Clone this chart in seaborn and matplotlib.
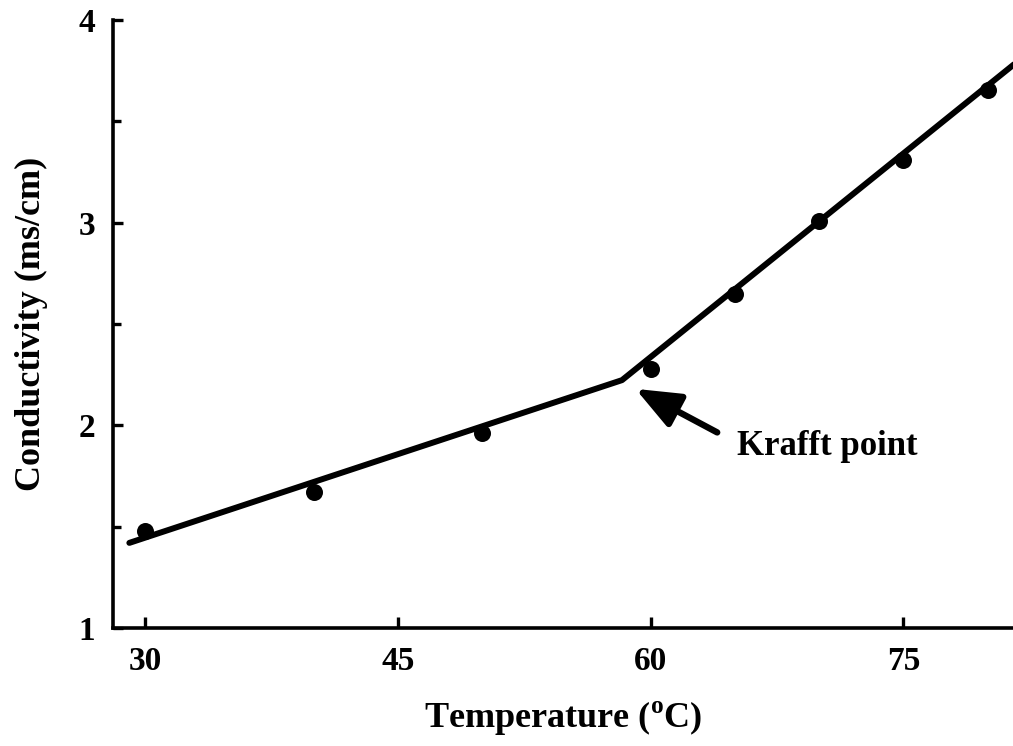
import matplotlib
matplotlib.use('Agg')
import matplotlib.pyplot as plt
import seaborn as sns
import pandas as pd

# ---- data ----
temperature = [30, 40, 50, 60, 65, 70, 75, 80]
conductivity = [1.48, 1.67, 1.96, 2.28, 2.65, 3.01, 3.31, 3.655]
fit_temperature = [29.07, 58.3, 81.6]
fit_conductivity = [1.42, 2.223, 3.784]
x_ticks = [30, 45, 60, 75]
y_ticks = [1, 2, 3, 4]
y_minor_ticks = [1.5, 2.5, 3.5]
annotation_text = "Krafft point"
arrow_tip = (59.1, 2.18)
arrow_tail = (63.95, 1.965)
text_pos = (65.1, 1.853)

sns.set_theme(style='ticks')
plt.rcParams['font.family'] = ['Liberation Serif', 'DejaVu Serif']
plt.rcParams['font.weight'] = 'bold'
plt.rcParams['mathtext.fontset'] = 'custom'
plt.rcParams['mathtext.rm'] = 'Liberation Serif:bold'
plt.rcParams['mathtext.bf'] = 'Liberation Serif:bold'

fig = plt.figure(figsize=(10.13, 7.46), dpi=100)
ax = fig.add_axes([113/1013, 1-628/746, 1-113/1013, (628-20)/746])

df = pd.DataFrame({'T': temperature, 'C': conductivity})
fit = pd.DataFrame({'T': fit_temperature, 'C': fit_conductivity})

sns.lineplot(data=fit, x='T', y='C', sort=False, estimator=None,
             color='black', linewidth=4.3, ax=ax)
sns.scatterplot(data=df, x='T', y='C', color='black', s=150,
                edgecolor='black', linewidth=0, ax=ax, zorder=3)

ax.set_xlim(28.1, 81.5)
ax.set_ylim(1, 4)
ax.set_xticks(x_ticks)
ax.set_yticks(y_ticks)
ax.set_yticks(y_minor_ticks, minor=True)
ax.set_xticklabels([str(v) for v in x_ticks], fontsize=24, fontweight='bold')
ax.set_yticklabels([str(v) for v in y_ticks], fontsize=24, fontweight='bold')

for side in ['top', 'right']:
    ax.spines[side].set_visible(False)
for side in ['left', 'bottom']:
    ax.spines[side].set_linewidth(2.6)
    ax.spines[side].set_color('black')

ax.tick_params(axis='x', which='major', direction='in', length=8, width=2.4,
               pad=13, colors='black')
ax.tick_params(axis='y', which='major', direction='in', length=7, width=2.4,
               pad=13, colors='black')
ax.tick_params(axis='y', which='minor', direction='in', length=6, width=2.4,
               colors='black')

ax.set_xlabel(r'Temperature ($^{\mathbf{o}}$C)', fontsize=26, fontweight='bold',
              labelpad=16, color='black')
ax.set_ylabel('Conductivity (ms/cm)', fontsize=26, fontweight='bold',
              labelpad=22, color='black')

ax.annotate('', xy=arrow_tip, xytext=arrow_tail,
            arrowprops=dict(arrowstyle='-|>,head_length=1.35,head_width=0.55',
                            mutation_scale=20, lw=4.6, color='black',
                            shrinkA=0, shrinkB=0))
ax.text(text_pos[0], text_pos[1], annotation_text, fontsize=25,
        fontweight='bold', ha='left', va='baseline', color='black')

ax.grid(False)
fig.savefig('out.png', dpi=100)
